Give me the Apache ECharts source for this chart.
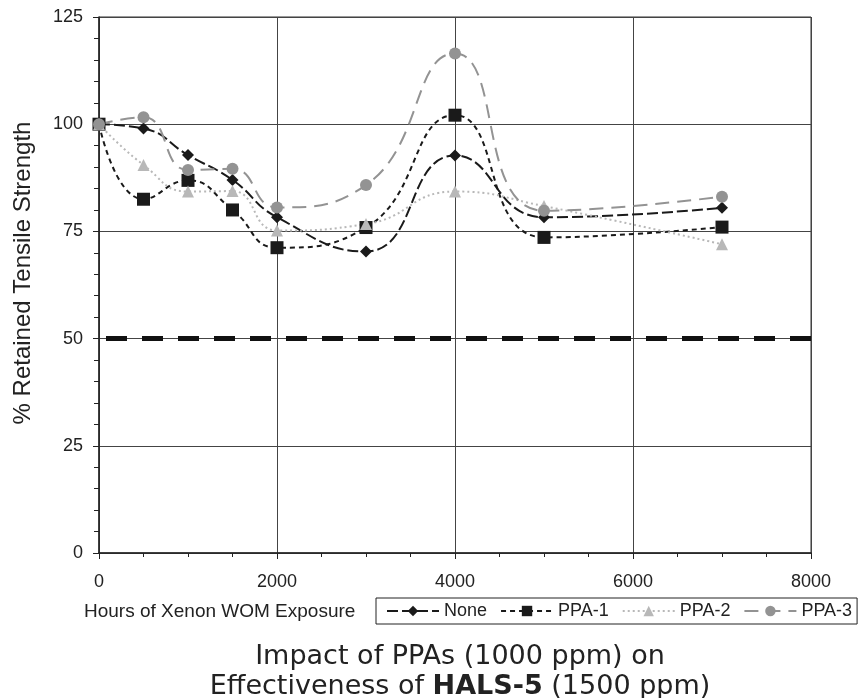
<!DOCTYPE html>
<html><head><meta charset="utf-8">
<script src="https://cdn.jsdelivr.net/npm/echarts@6/dist/echarts.min.js"></script>
<style>html,body{margin:0;padding:0;background:#fff}#c{width:861px;height:698px}</style>
</head><body><div id="c"></div>
<script>
const hours = [0, 500, 1000, 1500, 2000, 3000, 4000, 5000, 7000];
const none = [100, 99.0, 92.8, 87.0, 78.3, 70.3, 92.7, 78.3, 80.5];
const ppa1 = [100, 82.5, 86.9, 80.0, 71.2, 75.9, 102.1, 73.6, 76.0];
const ppa2 = [100, 90.5, 84.3, 84.4, 75.2, 76.7, 84.3, 80.9, 72.0];
const ppa3 = [100, 101.6, 89.3, 89.6, 80.6, 85.8, 116.5, 79.8, 83.1];
const limitX = [0, 8000];
const limitY = [50, 50];
const xTicks = [0, 2000, 4000, 6000, 8000];
const yTicks = [0, 25, 50, 75, 100, 125];

const pair = (xs, ys) => xs.map((x, i) => [x, ys[i]]);
const chart = echarts.init(document.getElementById('c'));
const font = 'Liberation Sans, Arial, sans-serif';
function ser(name, data, color, symbol, size, dash, width) {
  return {
    name, type: 'line', data: pair(hours, data), smooth: 0.5,
    symbol, symbolSize: size, showSymbol: true,
    itemStyle: { color },
    lineStyle: { color, width: width, type: dash },
    z: 3
  };
}
chart.setOption({
  animation: false,
  title: {
    text: '{n|Impact of PPAs (1000 ppm) on}\n{n|Effectiveness of }{b|HALS-5}{n| (1500 ppm)}',
    left: 455, top: 637, textAlign: 'center',
    textStyle: {
      fontWeight: 'normal',
      rich: {
        n: { fontFamily: 'DejaVu Sans, sans-serif', fontSize: 27, fontWeight: 'normal', color: '#222', lineHeight: 30 },
        b: { fontFamily: 'DejaVu Sans, sans-serif', fontSize: 27, fontWeight: 'bold', color: '#222', lineHeight: 30 }
      }
    }
  },
  graphic: [
    { type: 'text', left: 84, top: 602, style: { text: 'Hours of Xenon WOM Exposure', font: '19px ' + font, fill: '#222' } },
    { type: 'text', x: 23, y: 273, rotation: Math.PI / 2,
      style: { text: '% Retained Tensile Strength', font: '24px ' + font, fill: '#222', align: 'center', verticalAlign: 'middle' } }
  ],
  legend: {
    left: 376, top: 598, width: 484,
    orient: 'horizontal',
    borderColor: '#222', borderWidth: 1, borderRadius: 0,
    padding: [4, 5, 4, 10],
    itemGap: 13, itemWidth: 52, itemHeight: 13,
    textStyle: { fontFamily: font, fontSize: 18, color: '#222', padding: [0, 0, 0, 0] },
    data: ['None', 'PPA-1', 'PPA-2', 'PPA-3']
  },
  grid: { left: 99, top: 17, width: 712, height: 536, show: true, borderColor: '#333', borderWidth: 1 },
  xAxis: {
    type: 'value', min: 0, max: 8000, interval: 2000,
    axisLine: { show: true, lineStyle: { color: '#222', width: 1.5 } },
    axisTick: { show: true, inside: false, length: 6, lineStyle: { color: '#222' } },
    minorTick: { show: true, splitNumber: 4, length: 4, lineStyle: { color: '#222' } },
    splitLine: { show: true, lineStyle: { color: '#444', width: 1 } },
    axisLabel: { fontFamily: font, fontSize: 18, color: '#222', margin: 20, formatter: v => String(v) }
  },
  yAxis: {
    type: 'value', min: 0, max: 125, interval: 25,
    axisLine: { show: true, lineStyle: { color: '#222', width: 1.5 } },
    axisTick: { show: true, inside: false, length: 6, lineStyle: { color: '#222' } },
    minorTick: { show: true, splitNumber: 5, length: 5, lineStyle: { color: '#222' } },
    splitLine: { show: true, lineStyle: { color: '#444', width: 1 } },
    axisLabel: { fontFamily: font, fontSize: 18, color: '#222', margin: 16, formatter: v => String(v) }
  },
  series: [
    {
      name: 'limit', type: 'line', data: pair(limitX, limitY), symbol: 'none', silent: true,
      lineStyle: { color: '#111', width: 5, type: [21, 15], dashOffset: -7 }, z: 2
    },
    ser('None', none, '#1a1a1a', 'diamond', 12, [11, 4], 2),
    ser('PPA-1', ppa1, '#1a1a1a', 'rect', 13, [5, 4], 2),
    ser('PPA-2', ppa2, '#b8b8b8', 'triangle', 12, [2, 3], 2),
    ser('PPA-3', ppa3, '#939393', 'circle', 12, [14, 8], 2)
  ]
});
</script></body></html>
